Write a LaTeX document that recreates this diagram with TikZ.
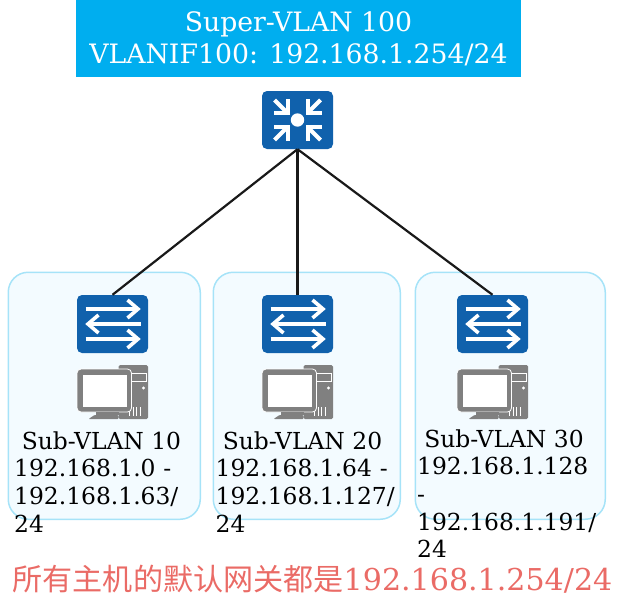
\documentclass[tikz,border=0pt]{standalone}
\usepackage{fontspec}
\setmainfont{DejaVu Serif}
\newfontfamily\cjkfont{Noto Sans CJK SC}
\usetikzlibrary{positioning,calc}
\definecolor{iconblue}{HTML}{1061AC}
\definecolor{pcgray}{HTML}{808080}
\definecolor{bannerblue}{HTML}{00AEEF}
\definecolor{boxfill}{HTML}{F3FBFF}
\definecolor{boxline}{HTML}{A6E3F8}
\definecolor{notered}{HTML}{EA6B66}
\tikzset{
    pics/corearrows/.style={code={
        \fill[white] (0,0) circle (6.7pt);
        \foreach \sx/\sy in {1/1,-1/1,1/-1,-1/-1} {
            \draw[white,line width=4pt] (\sx*10pt,\sy*7pt) -- (\sx*23pt,\sy*20pt);
            \draw[white,line width=4pt] (\sx*10pt,\sy*21pt) -- (\sx*10pt,\sy*7pt) -- (\sx*24pt,\sy*7pt);
        }
    }},
    pics/swarrows/.style={code={
        \draw[white,line width=3.6pt] (-27pt,15pt) -- (25pt,15pt);
        \draw[white,line width=3.6pt] (15pt,24pt) -- (25.5pt,15pt) -- (15pt,6pt);
        \draw[white,line width=3.6pt] (28pt,0) -- (-24pt,0);
        \draw[white,line width=3.6pt] (-14pt,9pt) -- (-24.5pt,0) -- (-14pt,-9pt);
        \draw[white,line width=3.6pt] (-27pt,-15pt) -- (25pt,-15pt);
        \draw[white,line width=3.6pt] (15pt,-6pt) -- (25.5pt,-15pt) -- (15pt,-24pt);
    }},
    pics/pcshape/.style={code={
        % tower %
        \fill[pcgray,rounded corners=1.5pt] (6pt,27pt) rectangle (35.5pt,-27pt);
        \draw[white,line width=0.8pt] (19pt,19pt) rectangle (34pt,11pt);
        \fill[white] (31pt,4pt) circle (1.6pt);
        \foreach \x in {17,20.5,24,27.5} {
            \draw[white,line width=1pt] (\x pt,-15pt) -- (\x pt,-24pt);
        }
        % screen %
        \fill[pcgray,draw=white,line width=0.8pt,rounded corners=4pt] (-35.5pt,23pt) rectangle (19pt,-20pt);
        \fill[white] (-30pt,17pt) rectangle (14pt,-15pt);
        \fill[pcgray] (-17pt,-20pt) rectangle (6pt,-23pt);
        \fill[pcgray,rounded corners=1pt] (-24pt,-27pt) -- (-18pt,-23pt) -- (6pt,-23pt) -- (6pt,-27pt) -- cycle;
    }},
    iconbox/.style={fill=iconblue,rounded corners=5pt,minimum width=71pt,minimum height=58pt,inner sep=0pt},
    pcbox/.style={minimum width=71pt,minimum height=54pt,inner sep=0pt},
    subvlan/.style={draw=boxline,fill=boxfill,line width=1.5pt,rounded corners=20pt,inner sep=0pt,minimum height=247pt,anchor=north west},
    linktxt/.style={font=\fontsize{23.4pt}{27.8pt}\selectfont,inner sep=0pt},
    addrtxt/.style={linktxt,align=left,anchor=north west,text width=190pt},
    link/.style={draw=black!90,line width=2.2pt}
}
\begin{document}
\begin{tikzpicture}[x=1pt,y=-1pt]
    \useasboundingbox (0,0) rectangle (623,605);

    % Draw sub-VLAN boxes %
    \node[subvlan,minimum width=192pt] (box1) at (7.5,271.5) {};
    \node[subvlan,minimum width=187pt] (box2) at (212.5,271.5) {};
    \node[subvlan,minimum width=190pt] (box3) at (414.5,271.5) {};

    % Draw super-VLAN banner %
    \node[fill=bannerblue,text=white,minimum width=445pt,minimum height=77pt,inner sep=0pt,
        align=center,font=\fontsize{26.7pt}{32pt}\selectfont] (super) at (298.5,38.5)
        {Super-VLAN 100\\VLANIF100: 192.168.1.254/24};

    % Draw devices %
    \node[iconbox] (core) at (297.5,120) {};
    \pic at (core) {corearrows};
    \node[iconbox] (sw1) at (112.5,324) {};
    \pic at (sw1) {swarrows};
    \node[iconbox] (sw2) at (297.5,324) {};
    \pic at (sw2) {swarrows};
    \node[iconbox] (sw3) at (492.5,324) {};
    \pic at (sw3) {swarrows};
    \node[pcbox] (pc1) at (112.5,392) {};
    \pic at (pc1) {pcshape};
    \node[pcbox] (pc2) at (297.5,392) {};
    \pic at (pc2) {pcshape};
    \node[pcbox] (pc3) at (492.5,392) {};
    \pic at (pc3) {pcshape};

    % Draw links %
    \draw[link] (core.south) -- (sw1.north);
    \draw[link] (core.south) -- (sw2.north);
    \draw[link] (core.south) -- (sw3.north);

    % Labels %
    \node[linktxt,anchor=base] (name1) at (101.5,449) {Sub-VLAN 10};
    \node[linktxt,anchor=base] (name2) at (302.5,449) {Sub-VLAN 20};
    \node[linktxt,anchor=base] (name3) at (504,447) {Sub-VLAN 30};
    \node[addrtxt] (addr1) at (14,459) {192.168.1.0 -\\192.168.1.63/\\24};
    \node[addrtxt] (addr2) at (215.5,459) {192.168.1.64 -\\192.168.1.127/\\24};
    \node[addrtxt] (addr3) at (417,457) {192.168.1.128\\-\\192.168.1.191/\\24};

    % Note %
    \node[text=notered,font=\fontsize{30.1pt}{34pt}\selectfont,inner sep=0pt,anchor=base] (note) at (312.5,590)
        {{\cjkfont 所有主机的默认网关都是}192.168.1.254/24};
\end{tikzpicture}
\end{document}
